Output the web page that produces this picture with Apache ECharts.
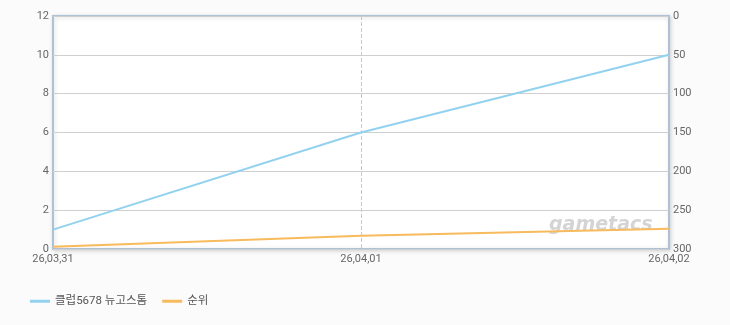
<!DOCTYPE html>
<html><head><meta charset="utf-8">
<script src="https://cdn.jsdelivr.net/npm/echarts@6/dist/echarts.min.js"></script>
<style>html,body{margin:0;padding:0;background:#fbfbfb}#c{width:730px;height:325px}</style>
</head><body><div id="c"></div>
<script>
const categories = ['26,03,31', '26,04,01', '26,04,02'];
const seriesNames = ['클럽5678 뉴고스톰', '순위'];
const valueData = [1, 6, 10];
const rankData = [297, 283, 274];
const leftTicks = {min: 0, max: 12, interval: 2};
const rightTicks = {min: 0, max: 300, interval: 50};

const chart = echarts.init(document.getElementById('c'));
const font = 'Roboto, "Noto Sans CJK KR", sans-serif';
chart.setOption({
  backgroundColor: '#fbfbfb',
  animation: false,
  grid: {left: 53, right: 61, top: 16, bottom: 76, show: true, backgroundColor: '#ffffff', borderColor: '#aec1d5', borderWidth: 2,
    shadowColor: 'rgba(0,0,0,0.15)', shadowBlur: 4, shadowOffsetX: 1, shadowOffsetY: 1},
  legend: {left: 25, bottom: 13, itemWidth: 20, itemHeight: 3, itemGap: 15, icon: 'rect',
    textStyle: {color: '#555', fontSize: 11.5, fontFamily: font},
    data: seriesNames},
  graphic: [{type: 'text', left: 549, top: 216, z: 0,
    style: {text: 'gametacs', fill: 'rgba(160,160,160,0.45)', font: 'italic bold 19px Verdana, "DejaVu Sans", sans-serif'}}],
  xAxis: {type: 'category', data: categories, boundaryGap: false,
    axisLine: {show: false}, axisTick: {show: false},
    axisLabel: {color: '#666', fontSize: 11, fontFamily: font, margin: 5},
    splitLine: {show: true, interval: function(i){return i === 1;}, lineStyle: {color: '#c8c8c8', type: 'dashed'}}},
  yAxis: [
    {type: 'value', min: leftTicks.min, max: leftTicks.max, interval: leftTicks.interval,
      axisLine: {show: false}, axisTick: {show: false},
      axisLabel: {color: '#666', fontSize: 11, fontFamily: font, margin: 4},
      splitLine: {lineStyle: {color: '#cfcfcf'}}},
    {type: 'value', inverse: true, min: rightTicks.min, max: rightTicks.max, interval: rightTicks.interval,
      position: 'right', axisLine: {show: false}, axisTick: {show: false},
      axisLabel: {color: '#666', fontSize: 11, fontFamily: font, margin: 4},
      splitLine: {show: false}}
  ],
  series: [
    {name: seriesNames[0], type: 'line', data: valueData, yAxisIndex: 0, symbol: 'none',
      lineStyle: {color: '#92d2ef', width: 2}, itemStyle: {color: '#92d2ef'}, z: 3},
    {name: seriesNames[1], type: 'line', data: rankData, yAxisIndex: 1, symbol: 'none',
      lineStyle: {color: '#f7ba5c', width: 2}, itemStyle: {color: '#f7ba5c'}, z: 3}
  ]
});
</script></body></html>
